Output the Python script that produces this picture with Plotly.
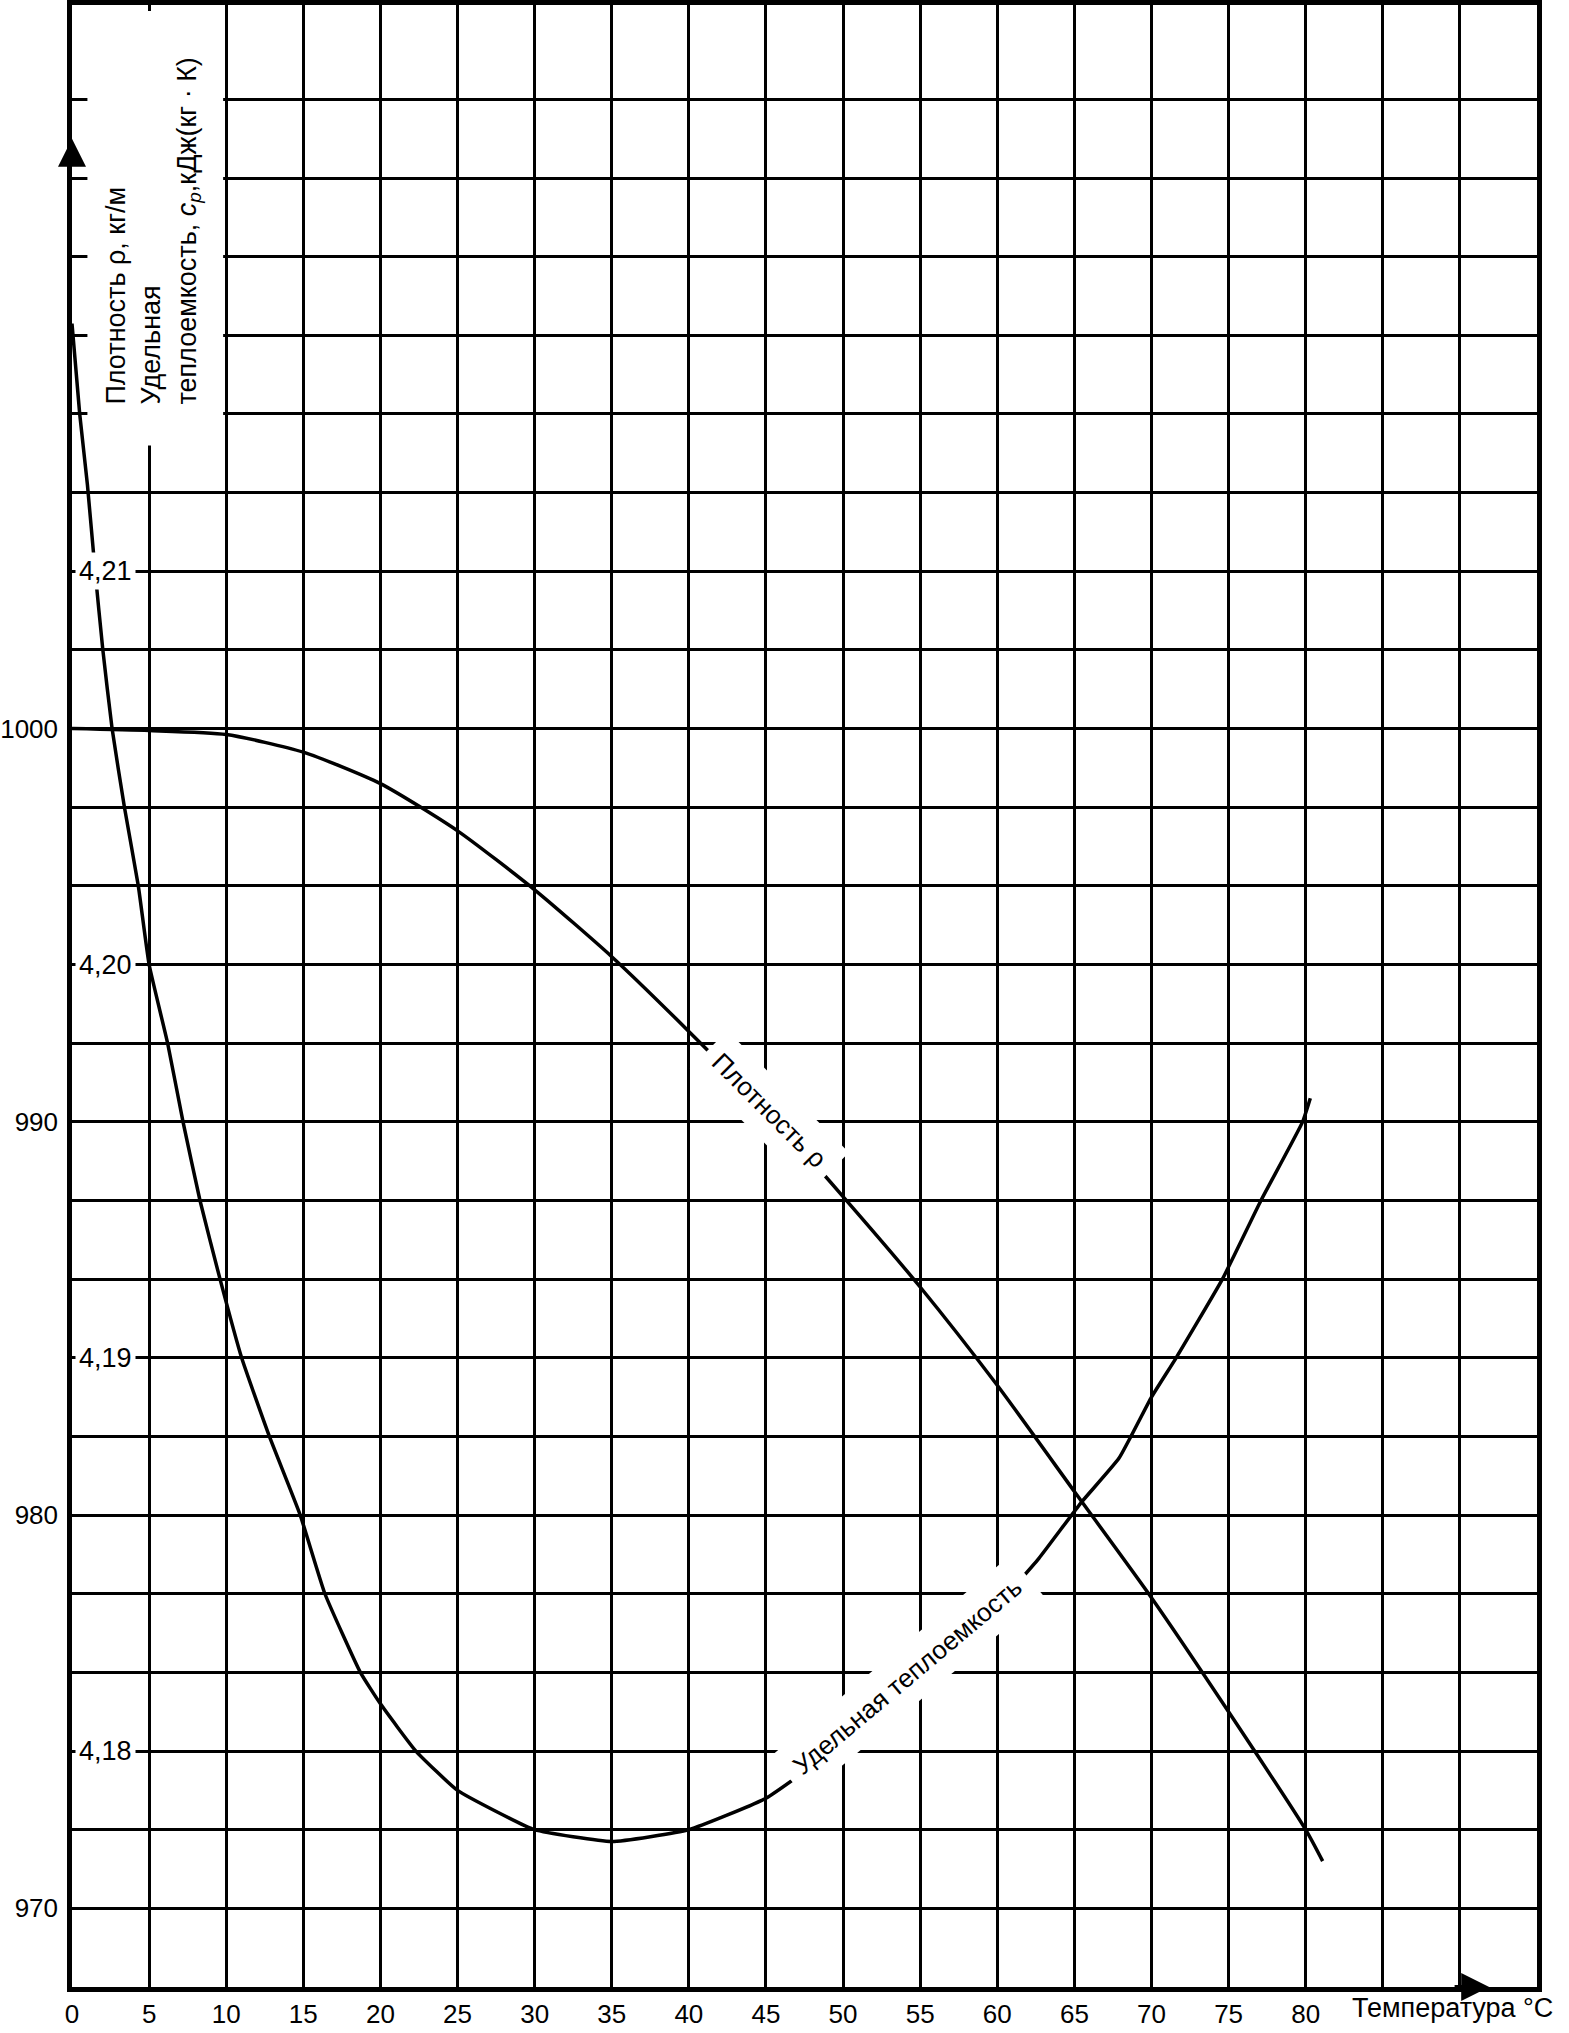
import plotly.graph_objects as go

# ---------------- data ----------------
# Density of water, kg/m3, vs temperature, °C
rho_T = [0, 5, 10, 15, 20, 25, 30, 35, 40, 45, 50, 55, 60, 65, 70, 75, 80, 81.1]
rho_vals = [1000.0, 999.95, 999.85, 999.4, 998.6, 997.4, 995.9, 994.2, 992.3,
            990.3, 988.1, 985.8, 983.3, 980.6, 977.9, 975.0, 972.0, 971.2]

# Specific heat capacity, kJ/(kg·K), vs temperature, °C
cp_T = [0, 0.5, 1.0, 1.5, 2.0, 2.6, 3.4, 4.3, 5.0, 6.2, 7.2, 8.3, 9.6, 11.0,
        12.8, 14.8, 16.4, 18.7, 20, 22.3, 25, 30, 35, 40, 45, 50, 55, 60,
        62.7, 65.4, 67.9, 70, 71.6, 74.6, 77.1, 79.8, 80.3]
cp_vals = [4.2163, 4.2140, 4.2122, 4.2100, 4.2080, 4.2060, 4.2040, 4.2020,
           4.2000, 4.1980, 4.1960, 4.1940, 4.1920, 4.1900, 4.1880, 4.1860,
           4.1840, 4.1820, 4.1812, 4.1800, 4.1790, 4.1780, 4.1777, 4.1780,
           4.1788, 4.1802, 4.1818, 4.1837, 4.1849, 4.1863, 4.18745, 4.1890,
           4.1900, 4.1920, 4.1940, 4.1960, 4.1966]

# Tick labels
t_tickvals = list(range(0, 95, 5))
t_ticktext = [str(v) if v <= 80 else "" for v in t_tickvals]

rho_tickvals = list(range(968, 1018, 2))
rho_labelled = {970: "970", 980: "980", 990: "990", 1000: "1000"}
rho_ticktext = [rho_labelled.get(v, "") for v in rho_tickvals]

cp_tickvals = [4.18, 4.19, 4.20, 4.21]
cp_ticktext = ["4,18", "4,19", "4,20", "4,21"]

# Scale relation between the two vertical scales
RHO_RANGE = [968, 1018.4]
CP_REF, RHO_REF, CP_PER_RHO = 4.18, 974.0, 0.001


def cp_of(rho):
    return CP_REF + (rho - RHO_REF) * CP_PER_RHO


CP_RANGE = [cp_of(RHO_RANGE[0]), cp_of(RHO_RANGE[1])]

FONT = "Liberation Sans, Arial, sans-serif"
BLACK = "black"

# ---------------- figure ----------------
fig = go.Figure()

fig.add_trace(go.Scatter(
    x=rho_T, y=rho_vals, mode="lines", yaxis="y",
    line=dict(color=BLACK, width=3.5, shape="spline", smoothing=0.6),
    showlegend=False, hoverinfo="skip"))

fig.add_trace(go.Scatter(
    x=cp_T, y=cp_vals, mode="lines", yaxis="y2",
    line=dict(color=BLACK, width=3.5, shape="spline", smoothing=0.4),
    showlegend=False, hoverinfo="skip"))

annotations = []

# cp scale labels inside the plot (white background hides grid / curve)
for v, t in zip(cp_tickvals, cp_ticktext):
    annotations.append(dict(
        x=2.2, y=v, xref="x", yref="y2", text=t, showarrow=False,
        xanchor="center", yanchor="middle", bgcolor="white", borderpad=3,
        font=dict(family=FONT, size=27, color=BLACK)))

# curve labels
annotations.append(dict(
    x=45.2, y=990.3, xref="x", yref="y", text="Плотность ρ", showarrow=False,
    textangle=45, bgcolor="white", borderpad=11,
    font=dict(family=FONT, size=26, color=BLACK)))
annotations.append(dict(
    x=54.2, y=cp_of(975.9), xref="x", yref="y2", text="Удельная теплоемкость",
    showarrow=False, textangle=-40, bgcolor="white", borderpad=11,
    font=dict(family=FONT, size=26, color=BLACK)))

# axis title (vertical, top-left inside the plot)
annotations.append(dict(
    x=1.75, y=1008.2, xref="x", yref="y",
    text="Плотность ρ, кг/м<br>Удельная<br>теплоемкость, <i>c<sub>p</sub></i>,кДж(кг · К)",
    showarrow=False, textangle=-90, align="left",
    xanchor="left", yanchor="bottom",
    font=dict(family=FONT, size=27, color=BLACK)))

# x axis title
annotations.append(dict(
    x=82.9, y=0, xref="x", yref="paper", text="Температура °C",
    showarrow=False, xanchor="left", yanchor="top", yshift=-4,
    font=dict(family=FONT, size=27, color=BLACK)))

# axis arrows
annotations.append(dict(
    x=0, y=1015.0, ax=0, ay=1013.9, xref="x", yref="y", axref="x", ayref="y",
    showarrow=True, arrowhead=2, arrowsize=1.4, arrowwidth=4, arrowcolor=BLACK,
    text=" "))
annotations.append(dict(
    x=91.9, y=968, ax=89.3, ay=968, xref="x", yref="y", axref="x", ayref="y",
    showarrow=True, arrowhead=2, arrowsize=1.4, arrowwidth=4, arrowcolor=BLACK,
    text=" "))

# white box behind the vertical title (grid is interrupted there)
shapes = [dict(type="rect", xref="x", yref="y", x0=1.0, x1=9.8,
               y0=1007.2, y1=RHO_RANGE[1] - 0.15,
               fillcolor="white", line=dict(width=0), layer="above")]

fig.update_layout(
    width=1569, height=2033,
    margin=dict(l=72, r=32, t=5, b=46, autoexpand=False),
    paper_bgcolor="white", plot_bgcolor="white",
    font=dict(family=FONT, size=27, color=BLACK),
    xaxis=dict(range=[0, 95], tickvals=t_tickvals, ticktext=t_ticktext,
               showgrid=True, gridcolor=BLACK, gridwidth=3,
               showline=True, linecolor=BLACK, linewidth=4.5, mirror=True,
               ticks="", zeroline=False, automargin=False,
               tickfont=dict(family=FONT, size=26)),
    yaxis=dict(range=RHO_RANGE, tickvals=rho_tickvals, ticktext=rho_ticktext,
               showgrid=True, gridcolor=BLACK, gridwidth=3,
               showline=True, linecolor=BLACK, linewidth=4.5, mirror=True,
               ticks="outside", ticklen=4, tickcolor="rgba(0,0,0,0)",
               zeroline=False, automargin=False,
               tickfont=dict(family=FONT, size=26)),
    yaxis2=dict(range=CP_RANGE, overlaying="y", side="left",
                showgrid=False, showline=False, zeroline=False,
                showticklabels=False, ticks="", automargin=False),
    annotations=annotations,
    shapes=shapes,
    showlegend=False,
)

fig.write_html("out.html",
               config={"displayModeBar": False},
               post_script="document.body.style.margin='0';"
                           "document.body.style.overflow='hidden';")
